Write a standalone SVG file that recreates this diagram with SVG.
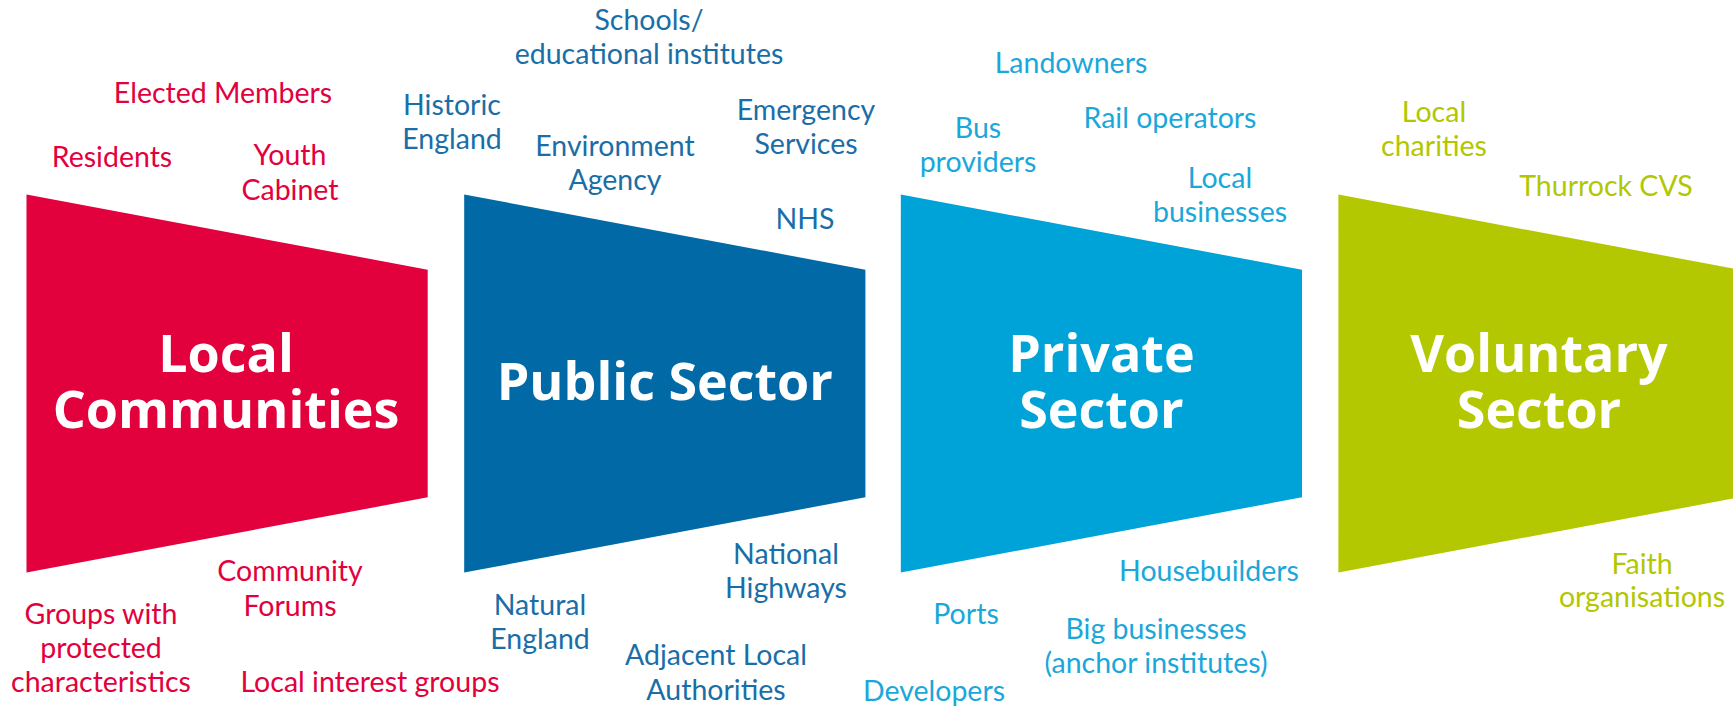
<svg xmlns="http://www.w3.org/2000/svg" width="1733" height="710" viewBox="0 0 1733 710">
<style>
.title{font-family:"Open Sans","Liberation Sans",sans-serif;font-weight:700;font-size:52px;fill:#ffffff;text-anchor:middle}
.lbl{font-family:Lato,"Liberation Sans",sans-serif;font-size:28.5px;text-anchor:middle}
.red{fill:#E2003D}
.blue{fill:#1A6EA8}
.lblue{fill:#1AA7DA}
.green{fill:#B2C700}
</style>
<rect width="1733" height="710" fill="#ffffff"/>
<g id="connectors"></g>
<g id="local-communities">
<polygon points="26.5,194.5 427.7,269.7 427.7,497.3 26.5,572.5" fill="#E2003D"/>
<text class="title" x="226" y="372">Local<tspan x="226" dy="56">Communities</tspan></text>
</g>
<g id="public-sector">
<polygon points="464.2,194.5 865.4,269.7 865.4,497.3 464.2,572.5" fill="#0069A6"/>
<text class="title" x="664.8" y="400">Public Sector</text>
</g>
<g id="private-sector">
<polygon points="900.8,194.5 1302,269.7 1302,497.3 900.8,572.5" fill="#00A3D7"/>
<text class="title" x="1101.4" y="372">Private<tspan x="1101.4" dy="56">Sector</tspan></text>
</g>
<g id="voluntary-sector">
<polygon points="1338.4,194.5 1739.6,269.7 1739.6,497.3 1338.4,572.5" fill="#B3C800"/>
<text class="title" x="1539" y="372">Voluntary<tspan x="1539" dy="56">Sector</tspan></text>
</g>
<g id="local-communities-labels">
<text class="lbl red" x="223" y="103">Elected Members</text>
<text class="lbl red" x="112" y="167">Residents</text>
<text class="lbl red" x="290" y="165">Youth</text>
<text class="lbl red" x="290" y="200">Cabinet</text>
<text class="lbl red" x="290" y="581">Community</text>
<text class="lbl red" x="290" y="616">Forums</text>
<text class="lbl red" x="101" y="624">Groups with</text>
<text class="lbl red" x="101" y="658">protected</text>
<text class="lbl red" x="101" y="692">characteristics</text>
<text class="lbl red" x="370" y="692">Local interest groups</text>
</g>
<g id="public-sector-labels">
<text class="lbl blue" x="649" y="30">Schools/</text>
<text class="lbl blue" x="649" y="64">educational institutes</text>
<text class="lbl blue" x="452" y="115">Historic</text>
<text class="lbl blue" x="452" y="149">England</text>
<text class="lbl blue" x="615" y="156">Environment</text>
<text class="lbl blue" x="615" y="190">Agency</text>
<text class="lbl blue" x="806" y="120">Emergency</text>
<text class="lbl blue" x="806" y="154">Services</text>
<text class="lbl blue" x="805" y="229">NHS</text>
<text class="lbl blue" x="786" y="564">National</text>
<text class="lbl blue" x="786" y="598">Highways</text>
<text class="lbl blue" x="540" y="615">Natural</text>
<text class="lbl blue" x="540" y="649">England</text>
<text class="lbl blue" x="716" y="665">Adjacent Local</text>
<text class="lbl blue" x="716" y="700">Authorities</text>
</g>
<g id="private-sector-labels">
<text class="lbl lblue" x="1071" y="73">Landowners</text>
<text class="lbl lblue" x="978" y="138">Bus</text>
<text class="lbl lblue" x="978" y="172">providers</text>
<text class="lbl lblue" x="1170" y="128">Rail operators</text>
<text class="lbl lblue" x="1220" y="188">Local</text>
<text class="lbl lblue" x="1220" y="222">businesses</text>
<text class="lbl lblue" x="1209" y="581">Housebuilders</text>
<text class="lbl lblue" x="966" y="624">Ports</text>
<text class="lbl lblue" x="1156" y="639">Big businesses</text>
<text class="lbl lblue" x="1156" y="673">(anchor institutes)</text>
<text class="lbl lblue" x="934" y="701">Developers</text>
</g>
<g id="voluntary-sector-labels">
<text class="lbl green" x="1434" y="122">Local</text>
<text class="lbl green" x="1434" y="156">charities</text>
<text class="lbl green" x="1606" y="196">Thurrock CVS</text>
<text class="lbl green" x="1642" y="574">Faith</text>
<text class="lbl green" x="1642" y="607">organisations</text>
</g>
</svg>
